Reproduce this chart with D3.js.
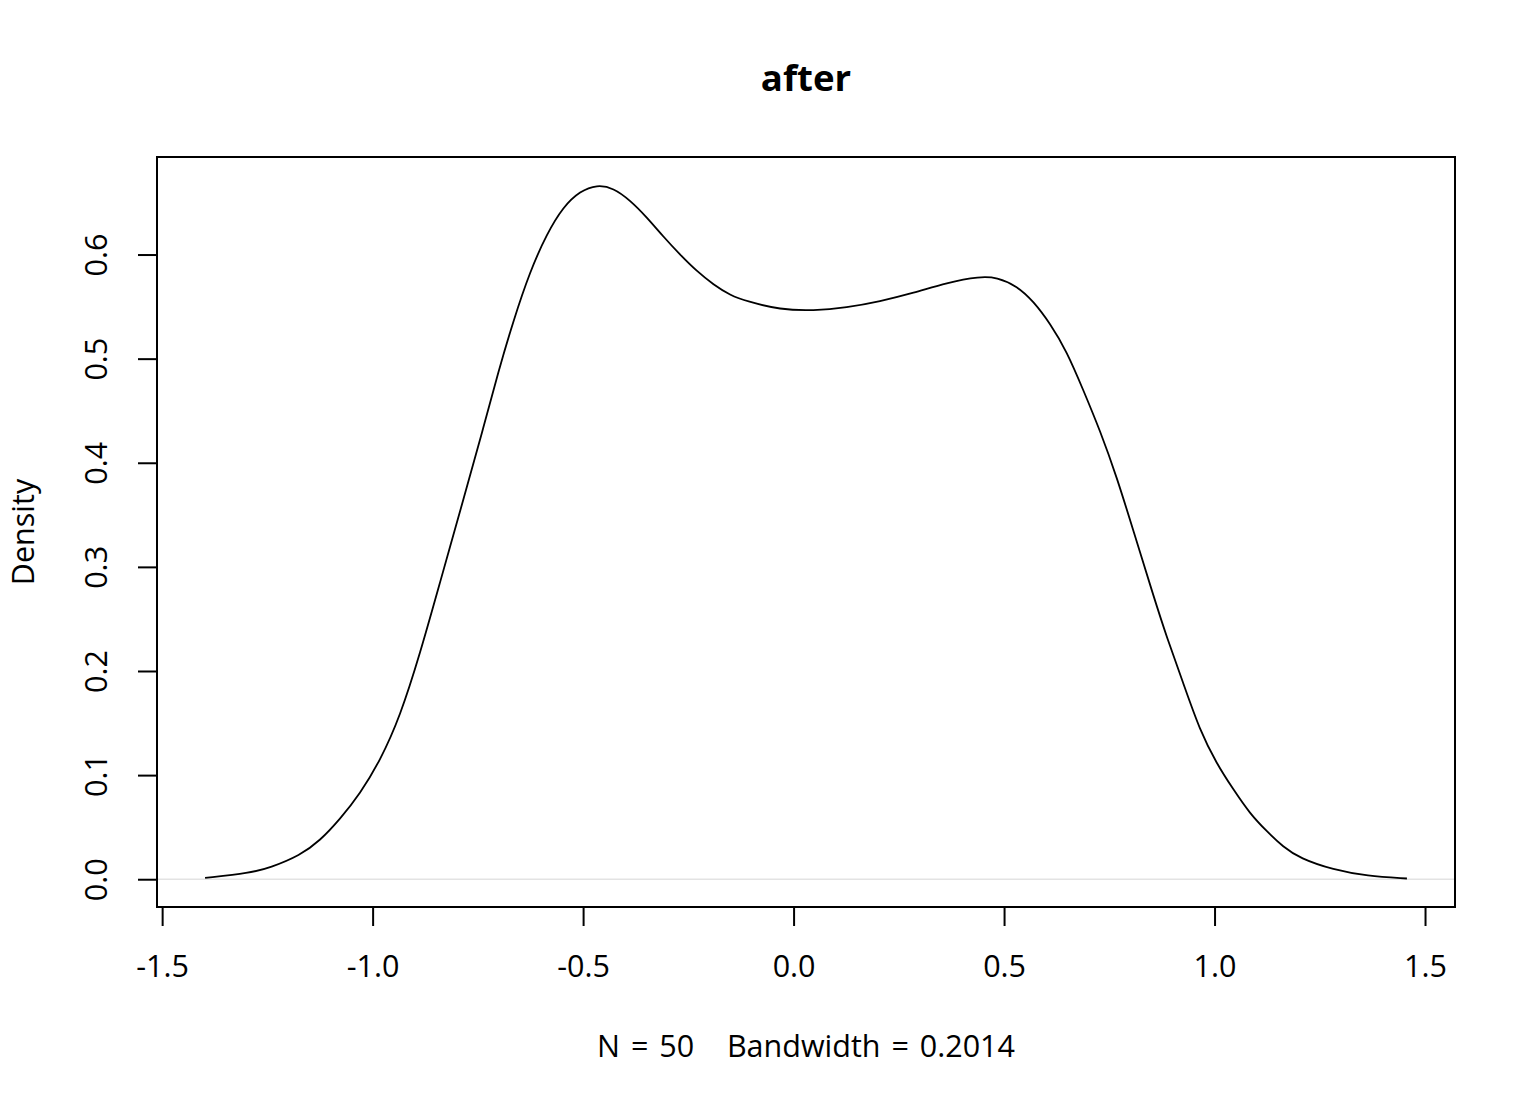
<!DOCTYPE html>
<html>
<head>
<meta charset="utf-8">
<script src="https://cdn.jsdelivr.net/npm/d3@7"></script>
<style>
  body { margin: 0; background: #fff; }
  text { font-family: "Open Sans", "Noto Sans", sans-serif; fill: #000; white-space: pre; }
</style>
</head>
<body>
<div class="chart"></div>
<script>
// density estimate
var densityX = [-1.398, -1.291, -1.244, -1.172, -1.125, -1.077, -1.030, -0.982, -0.935, -0.887,
    -0.840, -0.780, -0.740, -0.701, -0.666, -0.626, -0.586, -0.547, -0.507, -0.467,
    -0.428, -0.388, -0.349, -0.309, -0.270, -0.230, -0.190, -0.151, -0.111, -0.032,
    0.047, 0.126, 0.205, 0.285, 0.364, 0.443, 0.483, 0.530, 0.570, 0.609,
    0.649, 0.688, 0.728, 0.768, 0.807, 0.855, 0.886, 0.926, 0.965, 1.005,
    1.045, 1.084, 1.124, 1.163, 1.203, 1.282, 1.362, 1.457];
var densityY = [0.0012, 0.006, 0.011, 0.023, 0.037, 0.058, 0.082, 0.114, 0.156, 0.217,
    0.285, 0.371, 0.429, 0.488, 0.536, 0.584, 0.620, 0.646, 0.661, 0.667,
    0.664, 0.652, 0.636, 0.617, 0.600, 0.584, 0.571, 0.561, 0.555, 0.547,
    0.546, 0.549, 0.555, 0.563, 0.573, 0.579, 0.578, 0.570, 0.555, 0.534,
    0.507, 0.470, 0.431, 0.386, 0.335, 0.272, 0.233, 0.188, 0.143, 0.111,
    0.086, 0.063, 0.046, 0.031, 0.020, 0.009, 0.003, 0.0007];

var xTicks = [-1.5, -1.0, -0.5, 0.0, 0.5, 1.0, 1.5];
var yTicks = [0.0, 0.1, 0.2, 0.3, 0.4, 0.5, 0.6];

var title = 'after';
var xLabel = 'N = 50   Bandwidth = 0.2014';
var yLabel = 'Density';

var width = 1536;
var height = 1104;
var box = { left: 157, right: 1455, top: 157, bottom: 907 };
var fontSize = 30.5;

var svg = d3.select('.chart')
    .append('svg')
    .attr('width', width)
    .attr('height', height);

// R style: 4% padding around data range
var xExt = d3.extent(densityX);
var xPad = (xExt[1] - xExt[0]) * 0.04;
var xScale = d3.scaleLinear()
    .domain([xExt[0] - xPad, xExt[1] + xPad])
    .range([box.left, box.right]);

var yMax = d3.max(densityY);
var yScale = d3.scaleLinear()
    .domain([-yMax * 0.04, yMax * 1.04])
    .range([box.bottom, box.top]);

// zero line
svg.append('line')
    .attr('x1', box.left)
    .attr('x2', box.right)
    .attr('y1', yScale(0))
    .attr('y2', yScale(0))
    .attr('stroke', '#e3e3e3')
    .attr('stroke-width', 1.5);

// the density curve, smoothed through the read points
var line = d3.line()
    .x((d, i) => xScale(densityX[i]))
    .y(d => yScale(d))
    .curve(d3.curveBasis);

svg.append('path')
    .datum(densityY)
    .attr('d', line)
    .attr('fill', 'none')
    .attr('stroke', '#000')
    .attr('stroke-width', 1.8);

// plot box
svg.append('rect')
    .attr('x', box.left)
    .attr('y', box.top)
    .attr('width', box.right - box.left)
    .attr('height', box.bottom - box.top)
    .attr('fill', 'none')
    .attr('stroke', '#000')
    .attr('stroke-width', 2);

var fmt = d => d.toFixed(1);

// x axis
var xAxis = d3.axisBottom(xScale)
    .tickValues(xTicks)
    .tickFormat(fmt)
    .tickSize(19);
var gx = svg.append('g')
    .attr('transform', `translate(0, ${box.bottom})`)
    .call(xAxis);
gx.select('.domain')
    .attr('d', `M${xScale(xTicks[0])},0H${xScale(xTicks[xTicks.length - 1])}`);
gx.selectAll('.tick text')
    .attr('y', 70)
    .attr('dy', null);

// y axis, labels turned like R's las=0
var yAxis = d3.axisLeft(yScale)
    .tickValues(yTicks)
    .tickFormat(fmt)
    .tickSize(19);
var gy = svg.append('g')
    .attr('transform', `translate(${box.left}, 0)`)
    .call(yAxis);
gy.select('.domain')
    .attr('d', `M0,${yScale(yTicks[0])}V${yScale(yTicks[yTicks.length - 1])}`);
gy.selectAll('.tick text')
    .attr('x', null)
    .attr('dy', null)
    .attr('text-anchor', 'middle')
    .attr('transform', 'translate(-50, 0) rotate(-90)');

svg.selectAll('.domain, .tick line')
    .attr('stroke', '#000')
    .attr('stroke-width', 2);
svg.selectAll('.tick text')
    .style('font-family', '"Open Sans", "Noto Sans", sans-serif')
    .style('font-size', fontSize + 'px');

// titles
var midX = (box.left + box.right) / 2;
svg.append('text')
    .attr('x', midX)
    .attr('y', 91)
    .attr('text-anchor', 'middle')
    .style('font-size', (fontSize * 1.2) + 'px')
    .style('font-weight', 'bold')
    .text(title);

svg.append('text')
    .attr('x', midX)
    .attr('y', 1057)
    .attr('text-anchor', 'middle')
    .style('font-size', fontSize + 'px')
    .style('word-spacing', '3px')
    .text(xLabel);

svg.append('text')
    .attr('transform', `translate(34, ${(box.top + box.bottom) / 2}) rotate(-90)`)
    .attr('text-anchor', 'middle')
    .style('font-size', fontSize + 'px')
    .text(yLabel);
</script>
</body>
</html>
